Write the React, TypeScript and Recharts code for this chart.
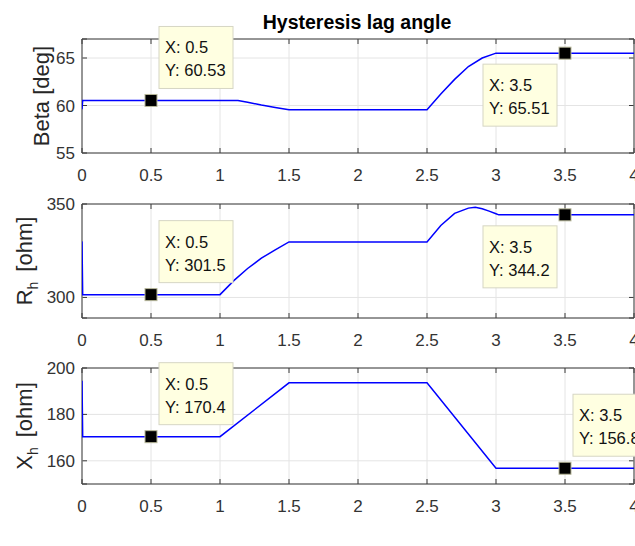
import React from "react";
import { LineChart, Line, XAxis, YAxis, CartesianGrid, ReferenceArea, ReferenceDot } from "recharts";

// time axis shared by all three panels
const timeTicks = [0, 0.5, 1, 1.5, 2, 2.5, 3, 3.5, 4];

// Beta [deg]
const betaTime = [0, 0.005, 1.13, 1.2, 1.3, 1.4, 1.5, 2.5, 2.6, 2.7, 2.8, 2.9, 3.0, 4.0];
const betaValue = [59.6, 60.53, 60.53, 60.35, 60.05, 59.8, 59.55, 59.55, 61.2, 62.75, 64.1, 65.0, 65.51, 65.51];
const betaTicks = [55, 60, 65];
const betaTipX = [0.5, 3.5];
const betaTipY = [60.53, 65.51];

// R_h [ohm]
const rhTime = [0, 0.005, 1.0, 1.1, 1.2, 1.3, 1.4, 1.5, 2.5, 2.6, 2.7, 2.8, 2.85, 2.9, 2.95, 3.0, 3.02, 4.0];
const rhValue = [330, 301.5, 301.5, 309, 315.5, 321, 325.5, 329.7, 329.7, 338.5, 345, 347.8, 348.2, 347.5, 346.2, 344.8, 344.2, 344.2];
const rhTicks = [300, 350];
const rhTipX = [0.5, 3.5];
const rhTipY = [301.5, 344.2];

// X_h [ohm]
const xhTime = [0, 0.005, 1.0, 1.5, 2.5, 3.0, 4.0];
const xhValue = [194.5, 170.4, 170.4, 193.6, 193.6, 156.8, 156.8];
const xhTicks = [160, 180, 200];
const xhTipX = [0.5, 3.5];
const xhTipY = [170.4, 156.8];

const toRows = (t: number[], v: number[]) => t.map((x, i) => ({ t: x, v: v[i] }));

const FONT = "'Liberation Sans', Arial, Helvetica, sans-serif";
const AXIS = "#3a3a3a";
const GRID = "#e4e4e4";
const TICK_TEXT = "#333";

// grid lines with matlab-style inner tick marks at both ends
const VLine = (props: any) => {
  const { x1, y1, y2 } = props;
  return (
    <g>
      <line x1={x1} x2={x1} y1={y1} y2={y2} stroke={GRID} />
      <line x1={x1} x2={x1} y1={y1} y2={y1 + 5} stroke={AXIS} />
      <line x1={x1} x2={x1} y1={y2} y2={y2 - 5} stroke={AXIS} />
    </g>
  );
};

const HLine = (props: any) => {
  const { x1, x2, y1 } = props;
  return (
    <g>
      <line x1={x1} x2={x2} y1={y1} y2={y1} stroke={GRID} />
      <line x1={x1} x2={x1 + 5} y1={y1} y2={y1} stroke={AXIS} />
      <line x1={x2} x2={x2 - 5} y1={y1} y2={y1} stroke={AXIS} />
    </g>
  );
};

const XTick = (props: any) => {
  const { x, y, payload } = props;
  return (
    <text x={x} y={y + 28} textAnchor="middle" fontSize={17} fill={TICK_TEXT} fontFamily={FONT}>
      {String(payload.value)}
    </text>
  );
};

const YTick = (props: any) => {
  const { x, y, payload } = props;
  return (
    <text x={x - 7} y={y + 6} textAnchor="end" fontSize={17} fill={TICK_TEXT} fontFamily={FONT}>
      {String(payload.value)}
    </text>
  );
};

const YLabel = (props: any) => {
  const { viewBox, at, main, sub, rest } = props;
  const cy = viewBox.y + viewBox.height / 2;
  return (
    <text
      transform={`translate(${at},${cy}) rotate(-90)`}
      textAnchor="middle"
      fontSize={22}
      fill="#262626"
      fontFamily={FONT}
    >
      {main}
      {sub ? (
        <tspan fontSize={14} dy={6}>
          {sub}
        </tspan>
      ) : null}
      {rest ? (
        <tspan dy={-6} dx={10}>
          {rest}
        </tspan>
      ) : null}
    </text>
  );
};

const XLabel = () => (
  <text x={362} y={545} textAnchor="middle" fontSize={21.5} fill="#262626" fontFamily={FONT}>
    time (sec)
  </text>
);

// where each tip box sits relative to its marker
const tipPlaceBeta = ["upRight", "downLeft"];
const tipPlaceRh = ["upRight", "downLeft"];
const tipPlaceXh = ["upRight", "upRight"];

const makeTip = (tx: number, ty: number, place: string) => (props: any) => {
  const { cx, cy } = props;
  const bx = place === "downLeft" ? cx - 82 : cx + 8;
  const by = place === "downLeft" ? cy + 11 : cy - 74;
  return (
    <g>
      <rect x={cx - 6} y={cy - 6} width={12} height={12} fill="#000" stroke="#b8b89a" strokeWidth={1} />
      <rect x={bx} y={by} width={74} height={62} fill="#ffffe1" stroke="#d6d6c4" strokeWidth={1} />
      <text x={bx + 6} y={by + 27} fontSize={16.5} fill="#111" fontFamily={FONT}>
        {`X: ${tx}`}
      </text>
      <text x={bx + 6} y={by + 50} fontSize={16.5} fill="#111" fontFamily={FONT}>
        {`Y: ${ty}`}
      </text>
    </g>
  );
};

function Panel(p: any) {
  const { top, marginTop, plotH, axisH, rows, domain, yTicks, tipX, tipY, tipPlace, label, xLabel } = p;
  return (
    <div style={{ position: "absolute", left: 0, top }}>
      <LineChart
        width={635}
        height={marginTop + plotH + axisH}
        data={rows}
        margin={{ top: marginTop, right: 1, bottom: 0, left: 0 }}
      >
        <CartesianGrid vertical={VLine} horizontal={HLine} />
        <XAxis
          dataKey="t"
          type="number"
          domain={[0, 4]}
          ticks={timeTicks}
          interval={0}
          height={axisH}
          tickSize={0}
          tickMargin={0}
          tickLine={false}
          axisLine={false}
          allowDataOverflow
          tick={<XTick />}
          label={xLabel ? <XLabel /> : undefined}
        />
        <YAxis
          type="number"
          domain={domain}
          ticks={yTicks}
          interval={0}
          width={82}
          tickSize={0}
          tickMargin={0}
          tickLine={false}
          axisLine={false}
          allowDataOverflow
          tick={<YTick />}
          label={label}
        />
        <ReferenceArea x1={0} x2={4} y1={domain[0]} y2={domain[1]} fill="none" stroke={AXIS} strokeWidth={1} />
        <Line
          type="linear"
          dataKey="v"
          stroke="#0000ff"
          strokeWidth={1.5}
          dot={false}
          isAnimationActive={false}
        />
        {tipX.map((x: number, i: number) => (
          <ReferenceDot key={i} x={x} y={tipY[i]} r={6} shape={makeTip(x, tipY[i], tipPlace[i])} />
        ))}
      </LineChart>
    </div>
  );
}

export default function App() {
  return (
    <div style={{ position: "absolute", left: 0, top: 0, width: 635, height: 546, background: "#fff", overflow: "hidden" }}>
      <svg width={635} height={40} style={{ position: "absolute", left: 0, top: 0 }}>
        <text x={357} y={28.7} textAnchor="middle" fontSize={19.5} fontWeight="bold" fill="#000" fontFamily={FONT}>
          Hysteresis lag angle
        </text>
      </svg>
      <Panel
        top={0}
        marginTop={39}
        plotH={114}
        axisH={35}
        rows={toRows(betaTime, betaValue)}
        domain={[55, 67]}
        yTicks={betaTicks}
        tipX={betaTipX}
        tipY={betaTipY}
        tipPlace={tipPlaceBeta}
        label={<YLabel at={48.5} main="Beta [deg]" />}
      />
      <Panel
        top={180}
        marginTop={24}
        plotH={114}
        axisH={35}
        rows={toRows(rhTime, rhValue)}
        domain={[289, 350]}
        yTicks={rhTicks}
        tipX={rhTipX}
        tipY={rhTipY}
        tipPlace={tipPlaceRh}
        label={<YLabel at={32} main="R" sub="h" rest="[ohm]" />}
      />
      <Panel
        top={345}
        marginTop={23}
        plotH={116}
        axisH={62}
        rows={toRows(xhTime, xhValue)}
        domain={[150, 200]}
        yTicks={xhTicks}
        tipX={xhTipX}
        tipY={xhTipY}
        tipPlace={tipPlaceXh}
        label={<YLabel at={32} main="X" sub="h" rest="[ohm]" />}
        xLabel
      />
    </div>
  );
}
